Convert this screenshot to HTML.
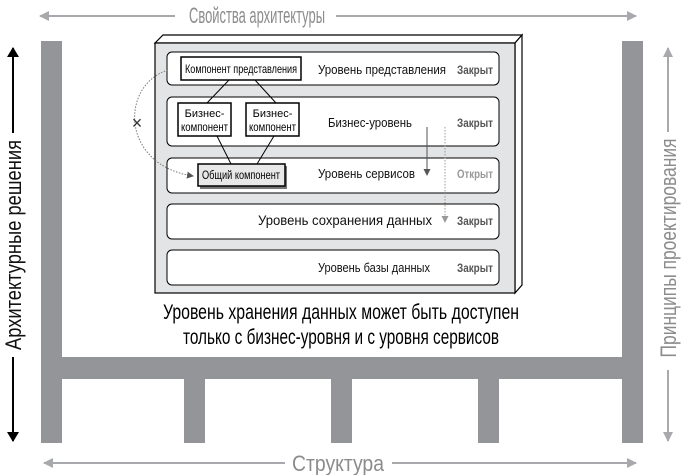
<!DOCTYPE html>
<html><head><meta charset="utf-8"><style>
html,body{margin:0;padding:0;background:#fff;width:684px;height:475px;overflow:hidden}
text{font-family:"Liberation Sans","DejaVu Sans",sans-serif}
</style></head><body>
<svg width="684" height="475" viewBox="0 0 684 475" xmlns="http://www.w3.org/2000/svg">
<defs>
<marker id="ag" markerWidth="10" markerHeight="10" refX="9" refY="5" orient="auto" markerUnits="userSpaceOnUse"><path d="M0,0 L10,5 L0,10 Z" fill="#a7a9ac"/></marker>
<marker id="ab" markerWidth="10" markerHeight="12" refX="9" refY="6" orient="auto" markerUnits="userSpaceOnUse"><path d="M0,0 L10,6 L0,12 Z" fill="#000"/></marker>
<marker id="sm" markerWidth="7" markerHeight="7" refX="6" refY="3.5" orient="auto" markerUnits="userSpaceOnUse"><path d="M0,0 L7,3.5 L0,7 Z" fill="#555"/></marker>
<marker id="smg" markerWidth="7" markerHeight="7" refX="6" refY="3.5" orient="auto" markerUnits="userSpaceOnUse"><path d="M0,0 L7,3.5 L0,7 Z" fill="#999"/></marker>
</defs>
<line x1="175" y1="16" x2="40" y2="16" stroke="#a7a9ac" stroke-width="2" marker-end="url(#ag)"/>
<line x1="336" y1="16" x2="636" y2="16" stroke="#a7a9ac" stroke-width="2" marker-end="url(#ag)"/>
<text x="257" y="23" font-size="22" fill="#8c8c8c" text-anchor="middle" textLength="136" lengthAdjust="spacingAndGlyphs">Свойства архитектуры</text>
<line x1="285" y1="463" x2="44" y2="463" stroke="#a7a9ac" stroke-width="2" marker-end="url(#ag)"/>
<line x1="392" y1="463" x2="636" y2="463" stroke="#a7a9ac" stroke-width="2" marker-end="url(#ag)"/>
<text x="338" y="471" font-size="22" fill="#8c8c8c" text-anchor="middle" textLength="92" lengthAdjust="spacingAndGlyphs">Структура</text>
<line x1="13" y1="133" x2="13" y2="48" stroke="#000" stroke-width="2" marker-end="url(#ab)"/>
<line x1="13" y1="357" x2="13" y2="441" stroke="#000" stroke-width="2" marker-end="url(#ab)"/>
<text transform="translate(21,245) rotate(-90)" font-size="22" fill="#111" text-anchor="middle" textLength="210" lengthAdjust="spacingAndGlyphs">Архитектурные решения</text>
<line x1="668" y1="132" x2="668" y2="48" stroke="#a7a9ac" stroke-width="2" marker-end="url(#ag)"/>
<line x1="668" y1="370" x2="668" y2="441" stroke="#a7a9ac" stroke-width="2" marker-end="url(#ag)"/>
<text transform="translate(676,248) rotate(-90)" font-size="22" fill="#8c8c8c" text-anchor="middle" textLength="219" lengthAdjust="spacingAndGlyphs">Принципы проектирования</text>
<g fill="#939598">
<rect x="41" y="41" width="21" height="402"/>
<rect x="622" y="41" width="21" height="402"/>
<rect x="41" y="357" width="602" height="22"/>
<rect x="184" y="357" width="21" height="86"/>
<rect x="331" y="357" width="21" height="86"/>
<rect x="478" y="357" width="21" height="86"/>
</g>
<path d="M155,43 L163,35 L522,35 L515,43 Z" fill="#fff" stroke="#000" stroke-width="1.2"/>
<path d="M515,43 L522,35 L522,285 L515,293 Z" fill="#fff" stroke="#000" stroke-width="1.2"/>
<rect x="155" y="43" width="360" height="250" fill="#e3e4e5" stroke="#000" stroke-width="1.2"/>
<g fill="#fff" stroke="#000" stroke-width="1">
<rect x="167" y="52" width="332" height="33" rx="5"/>
<rect x="167" y="97" width="332" height="49" rx="5"/>
<rect x="167" y="158" width="332" height="35" rx="5"/>
<rect x="167" y="204" width="332" height="35" rx="5"/>
<rect x="167" y="250" width="332" height="35" rx="5"/>
</g>
<g stroke="#000" stroke-width="1">
<line x1="229" y1="80" x2="207" y2="103"/>
<line x1="255" y1="80" x2="276" y2="103"/>
<line x1="217" y1="136" x2="231" y2="164"/>
<line x1="274" y1="136" x2="257" y2="164"/>
</g>
<rect x="181" y="57" width="120" height="23" fill="#fff" stroke="#000" stroke-width="1.5"/>
<text x="241" y="73" font-size="12" text-anchor="middle" textLength="112" lengthAdjust="spacingAndGlyphs">Компонент представления</text>
<rect x="178" y="103" width="53" height="33" fill="#fff" stroke="#000" stroke-width="1.5"/>
<rect x="246" y="103" width="53" height="33" fill="#fff" stroke="#000" stroke-width="1.5"/>
<text x="204.5" y="117" font-size="11" text-anchor="middle">Бизнес-</text>
<text x="204.5" y="131" font-size="12" text-anchor="middle" textLength="47" lengthAdjust="spacingAndGlyphs">компонент</text>
<text x="272.5" y="117" font-size="11" text-anchor="middle">Бизнес-</text>
<text x="272.5" y="131" font-size="12" text-anchor="middle" textLength="47" lengthAdjust="spacingAndGlyphs">компонент</text>
<rect x="200" y="166" width="87" height="23" fill="#777"/>
<rect x="198" y="164" width="87" height="22" fill="#e8e8e8" stroke="#000" stroke-width="1.5"/>
<text x="241" y="179" font-size="12" text-anchor="middle" textLength="78" lengthAdjust="spacingAndGlyphs">Общий компонент</text>
<path d="M168,70 C120,85 120,165 193,176" fill="none" stroke="#777" stroke-width="1" stroke-dasharray="1.5,1.5" marker-end="url(#sm)"/>
<text x="137" y="129" font-size="18" text-anchor="middle" fill="#333">×</text>
<line x1="427" y1="127" x2="427" y2="175" stroke="#555" stroke-width="1" marker-end="url(#sm)"/>
<line x1="445" y1="127" x2="445" y2="222" stroke="#999" stroke-width="1" stroke-dasharray="1.5,1.5" marker-end="url(#smg)"/>
<g font-size="13" fill="#111">
<text x="318" y="74" textLength="128" lengthAdjust="spacingAndGlyphs">Уровень представления</text>
<text x="328" y="127" textLength="84" lengthAdjust="spacingAndGlyphs">Бизнес-уровень</text>
<text x="318" y="178" textLength="97" lengthAdjust="spacingAndGlyphs">Уровень сервисов</text>
<text x="258" y="225" font-size="14" textLength="174" lengthAdjust="spacingAndGlyphs">Уровень сохранения данных</text>
<text x="318" y="272" textLength="112" lengthAdjust="spacingAndGlyphs">Уровень базы данных</text>
</g>
<g font-size="12" font-weight="bold" fill="#555">
<text x="457" y="74" textLength="36" lengthAdjust="spacingAndGlyphs">Закрыт</text>
<text x="457" y="127" textLength="36" lengthAdjust="spacingAndGlyphs">Закрыт</text>
<text x="457" y="178" fill="#999" textLength="36" lengthAdjust="spacingAndGlyphs">Открыт</text>
<text x="457" y="225" textLength="36" lengthAdjust="spacingAndGlyphs">Закрыт</text>
<text x="457" y="272" textLength="36" lengthAdjust="spacingAndGlyphs">Закрыт</text>
</g>
<text x="341" y="319" font-size="21" text-anchor="middle" fill="#000" textLength="356" lengthAdjust="spacingAndGlyphs">Уровень хранения данных может быть доступен</text>
<text x="341" y="344" font-size="21" text-anchor="middle" fill="#000" textLength="316" lengthAdjust="spacingAndGlyphs">только с бизнес-уровня и с уровня сервисов</text>
</svg>
</body></html>
